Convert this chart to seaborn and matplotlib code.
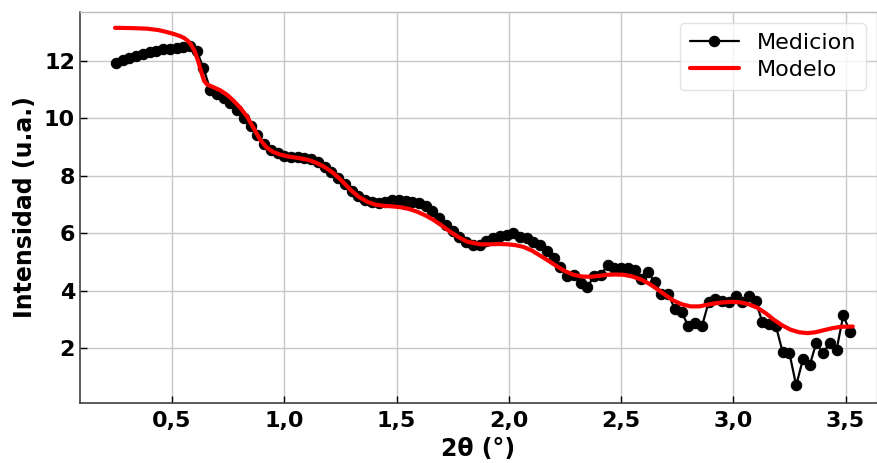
import numpy as np
import pandas as pd
import matplotlib
matplotlib.use("Agg")
import matplotlib.pyplot as plt
import seaborn as sns

# Measured data (2θ in degrees, intensity in a.u.)
x_med = [0.25, 0.28, 0.31, 0.34, 0.37, 0.40, 0.43, 0.46, 0.49, 0.52,
         0.55, 0.58, 0.61, 0.64, 0.67, 0.70, 0.73, 0.76, 0.79, 0.82,
         0.85, 0.88, 0.91, 0.94, 0.97, 1.00, 1.03, 1.06, 1.09, 1.12,
         1.15, 1.18, 1.21, 1.24, 1.27, 1.30, 1.33, 1.36, 1.39, 1.42,
         1.45, 1.48, 1.51, 1.54, 1.57, 1.60, 1.63, 1.66, 1.69, 1.72,
         1.75, 1.78, 1.81, 1.84, 1.87, 1.90, 1.93, 1.96, 1.99, 2.02,
         2.05, 2.08, 2.11, 2.14, 2.17, 2.20, 2.23, 2.26, 2.29, 2.32,
         2.35, 2.38, 2.41, 2.44, 2.47, 2.50, 2.53, 2.56, 2.59, 2.62,
         2.65, 2.68, 2.71, 2.74, 2.77, 2.80, 2.83, 2.86, 2.89, 2.92,
         2.95, 2.98, 3.01, 3.04, 3.07, 3.10, 3.13, 3.16, 3.19, 3.22,
         3.25, 3.28, 3.31, 3.34, 3.37, 3.40, 3.43, 3.46, 3.49, 3.52]
y_med = [11.92, 12.02, 12.10, 12.17, 12.24, 12.30, 12.35, 12.40, 12.43, 12.46,
         12.48, 12.50, 12.35, 11.75, 11.00, 10.85, 10.70, 10.55, 10.30, 10.00,
         9.75, 9.42, 9.12, 8.90, 8.78, 8.70, 8.67, 8.65, 8.63, 8.57,
         8.47, 8.32, 8.13, 7.92, 7.70, 7.48, 7.30, 7.15, 7.08, 7.05,
         7.10, 7.15, 7.15, 7.13, 7.10, 7.05, 6.95, 6.78, 6.55, 6.30,
         6.07, 5.87, 5.70, 5.60, 5.60, 5.72, 5.85, 5.90, 5.93, 6.03,
         5.88, 5.83, 5.70, 5.58, 5.37, 5.16, 4.82, 4.52, 4.55, 4.27,
         4.14, 4.52, 4.55, 4.90, 4.80, 4.80, 4.80, 4.72, 4.40, 4.65,
         4.30, 3.90, 3.90, 3.36, 3.25, 2.77, 2.87, 2.77, 3.60, 3.70,
         3.64, 3.60, 3.81, 3.60, 3.81, 3.64, 2.90, 2.85, 2.77, 1.86,
         1.83, 0.71, 1.62, 1.41, 2.20, 1.83, 2.20, 1.96, 3.15, 2.56]

# Model curve
x_mod = [0.246, 0.320, 0.389, 0.440, 0.478, 0.510, 0.536, 0.555, 0.570, 0.585,
         0.600, 0.616, 0.630, 0.643, 0.656, 0.685, 0.714, 0.745,
         0.772, 0.805, 0.835, 0.865, 0.893, 0.922, 0.951, 0.982, 1.013, 1.071,
         1.110, 1.147, 1.183, 1.218, 1.256, 1.294, 1.332, 1.369,
         1.405, 1.441, 1.480, 1.517, 1.555, 1.593, 1.630, 1.664, 1.700, 1.740,
         1.778, 1.815, 1.873, 1.918, 1.956, 1.994, 2.030, 2.065, 2.103,
         2.141, 2.180, 2.217, 2.252, 2.288, 2.325, 2.364, 2.400, 2.439, 2.475,
         2.511, 2.550, 2.587, 2.625, 2.663, 2.700, 2.734, 2.772, 2.810, 2.848,
         2.886, 2.920, 2.957, 2.995, 3.033, 3.070, 3.108, 3.145, 3.180, 3.218,
         3.255, 3.293, 3.331, 3.365, 3.402, 3.440, 3.478, 3.532]
y_mod = [13.15, 13.14, 13.12, 13.07, 13.00, 12.93, 12.86, 12.79, 12.70, 12.56,
         12.35, 12.00, 11.62, 11.30, 11.18, 11.08, 10.98, 10.82,
         10.63, 10.36, 10.05, 9.64, 9.25, 8.98, 8.83, 8.74, 8.68, 8.61,
         8.55, 8.44, 8.29, 8.10, 7.83, 7.52, 7.27, 7.10,
         7.00, 6.96, 6.94, 6.91, 6.85, 6.75, 6.62, 6.47, 6.28, 6.05,
         5.86, 5.71, 5.62, 5.62, 5.63, 5.62, 5.59, 5.53, 5.40,
         5.22, 5.03, 4.84, 4.68, 4.56, 4.50, 4.49, 4.52, 4.56, 4.57,
         4.56, 4.50, 4.40, 4.25, 4.05, 3.84, 3.66, 3.53, 3.46, 3.46,
         3.52, 3.57, 3.60, 3.62, 3.60, 3.53, 3.41, 3.22, 3.00, 2.80,
         2.65, 2.56, 2.53, 2.56, 2.63, 2.70, 2.75, 2.76]

x_ticks = [0.5, 1.0, 1.5, 2.0, 2.5, 3.0, 3.5]
x_tick_labels = ["0,5", "1,0", "1,5", "2,0", "2,5", "3,0", "3,5"]
y_ticks = [2, 4, 6, 8, 10, 12]

sns.set_style("whitegrid")
plt.rcParams['font.family'] = ['DejaVu Sans']

fig = plt.figure(figsize=(8.77, 4.63), dpi=100)
ax = fig.add_axes([0.0912, 0.1296, 0.9088, 0.8445])

df_med = pd.DataFrame({"x": x_med, "y": y_med})
df_mod = pd.DataFrame({"x": x_mod, "y": y_mod})

sns.lineplot(data=df_med, x="x", y="y", ax=ax, color="black", linewidth=1.6,
             marker="o", markersize=7.5, markeredgecolor="black",
             markerfacecolor="black", label="Medicion", sort=False)
sns.lineplot(data=df_mod, x="x", y="y", ax=ax, color="#ff0000", linewidth=3,
             label="Modelo", sort=False)

ax.set_xlim(0.09, 3.64)
ax.set_ylim(0.1, 13.7)
ax.set_xticks(x_ticks)
ax.set_xticklabels(x_tick_labels)
ax.set_yticks(y_ticks)

ax.grid(True, color="#c8c8c8", linewidth=1.0)
ax.tick_params(axis="both", direction="in", length=5, width=1,
               labelsize=16, colors="black", labelcolor="black",
               left=True, bottom=True)
ax.tick_params(axis="x", pad=6)
for lab in ax.get_xticklabels() + ax.get_yticklabels():
    lab.set_fontweight("bold")

ax.set_xlabel("2θ (°)", fontsize=17, fontweight="bold", labelpad=4,
              color="black")
ax.set_ylabel("Intensidad (u.a.)", fontsize=17, fontweight="bold",
              labelpad=5, color="black")

for side in ["left", "bottom"]:
    ax.spines[side].set_color("#404040")
    ax.spines[side].set_linewidth(1.2)
for side in ["top", "right"]:
    ax.spines[side].set_color("#bbbbbb")
    ax.spines[side].set_linewidth(1.0)

leg = ax.legend(loc="upper right", fontsize=16, frameon=True,
                borderpad=0.45, handlelength=2.2, labelspacing=0.3)
leg.get_frame().set_edgecolor("#dddddd")
for t in leg.get_texts():
    t.set_color("black")

fig.savefig("out.png", dpi=100)
